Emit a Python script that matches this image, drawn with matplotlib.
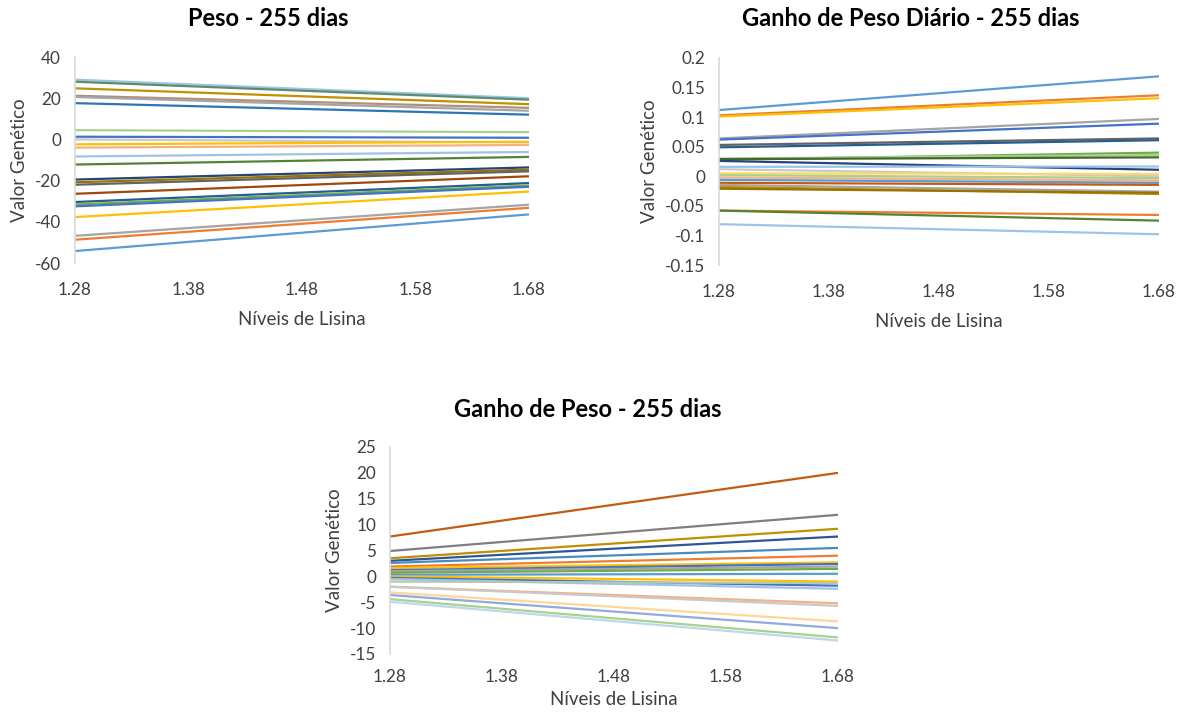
import matplotlib
matplotlib.use("Agg")
import matplotlib.pyplot as plt
from matplotlib.ticker import FuncFormatter

plt.rcParams['font.family'] = ['Lato', 'DejaVu Sans']

# Lysine levels (x axis)
niveis = [1.28, 1.38, 1.48, 1.58, 1.68]
x_ends = [1.28, 1.68]

# Peso - 255 dias: genetic value at 1.28 and 1.68
peso_inicio = [29.0, 28.0, 24.8, 21.2, 20.6, 17.6, 4.5, 1.3, 0.0, -2.4, -4.0, -8.3, -12.2,
               -19.5, -20.8, -22.0, -26.4, -30.4, -31.6, -32.5, -37.7, -46.8, -48.7, -54.2]
peso_fim = [20.0, 19.3, 17.1, 15.3, 13.9, 12.0, 3.5, 0.8, -1.5, -1.1, -2.7, -6.1, -8.5,
            -13.6, -14.7, -15.5, -17.9, -21.2, -22.4, -23.0, -25.3, -31.7, -33.2, -36.4]
peso_cores = ['#9DC3E6', '#5E8C6A', '#BF9000', '#B08F7C', '#A5A5A5', '#2E75B6', '#A9D18E',
              '#4472C4', '#C9C9C9', '#FFC000', '#F4B183', '#9DC3E6', '#548235',
              '#264478', '#997300', '#636363', '#9E480E', '#255E91', '#70AD47', '#4472C4',
              '#FFC000', '#A5A5A5', '#ED7D31', '#5B9BD5']

# Ganho de Peso Diário - 255 dias
gpd_inicio = [0.112, 0.103, 0.101, 0.064, 0.062, 0.053, 0.049, 0.028, 0.030, 0.029, 0.026,
              0.016, 0.012, 0.005, 0.002, -0.002, -0.006, -0.011, -0.0145, -0.018, -0.021,
              -0.058, -0.058, -0.081]
gpd_fim = [0.169, 0.137, 0.132, 0.097, 0.089, 0.064, 0.061, 0.040, 0.036, 0.032, 0.011,
           0.0165, 0.0, 0.004, -0.003, -0.007, -0.011, -0.0145, -0.026, -0.030, -0.028,
           -0.0654, -0.075, -0.098]
gpd_cores = ['#5B9BD5', '#ED7D31', '#FFC000', '#A5A5A5', '#4472C4', '#636363', '#255E91',
             '#70AD47', '#A9D18E', '#43682B', '#264478', '#9DC3E6', '#C9C9C9', '#FFD966',
             '#A9D18E', '#F4B183', '#5B9BD5', '#C55A11', '#A5A5A5', '#BF9000', '#997300',
             '#ED7D31', '#548235', '#9DC3E6']

# Ganho de Peso - 255 dias
gp_inicio = [7.7, 4.9, 3.5, 3.0, 2.6, 1.9, 1.6, 1.2, 1.0, 0.7, 0.3, 0.0, -0.3, -0.5, -1.0,
             -2.0, -2.0, -3.1, -3.6, -4.4, -4.9]
gp_fim = [20.0, 11.9, 9.2, 7.7, 5.5, 4.0, 2.7, 2.4, 1.9, 1.45, 0.5, -1.0, -1.8, -2.4, -1.3,
          -5.2, -5.7, -8.7, -10.0, -11.8, -12.4]
gp_cores = ['#C55A11', '#7F7F7F', '#BF9000', '#2F5597', '#4A8BBF', '#ED7D31', '#FFC000',
            '#4472C4', '#A5A5A5', '#70AD47', '#5B9BD5', '#FFC000', '#4472C4', '#9DC3E6',
            '#B4C7B0', '#F4B183', '#C9C9C9', '#FFD699', '#8FAADC', '#A9D18E', '#BDD7EE']

W, H = 1184, 714
fig = plt.figure(figsize=(W / 100, H / 100), dpi=100)


def painel(rect, titulo, titulo_xy, inicio, fim, cores, yticks, fmt,
           xpad=14, xlabelpad=9):
    ax = fig.add_axes(rect)
    for a, b, c in zip(inicio, fim, cores):
        ax.plot(x_ends, [a, b], color=c, lw=1.6, solid_capstyle='butt')
    ax.set_xlim(niveis[0], niveis[-1])
    ax.set_ylim(yticks[0], yticks[-1])
    ax.set_xticks(niveis)
    ax.set_xticklabels([f'{v:.2f}' for v in niveis])
    ax.set_yticks(yticks)
    ax.yaxis.set_major_formatter(FuncFormatter(fmt))
    for s in ['top', 'right', 'bottom']:
        ax.spines[s].set_visible(False)
    ax.spines['left'].set_color('#D9D9D9')
    ax.spines['left'].set_linewidth(1.2)
    ax.tick_params(axis='both', length=0, labelsize=12.3, colors='#404040')
    ax.tick_params(axis='y', pad=10)
    ax.tick_params(axis='x', pad=xpad)
    ax.set_xlabel('Níveis de Lisina', fontsize=13.5, color='#404040', labelpad=xlabelpad)
    ax.set_ylabel('Valor Genético', fontsize=13.5, color='#404040', labelpad=5)
    fig.text(titulo_xy[0] / W, 1 - titulo_xy[1] / H, titulo, ha='center', va='center',
             fontsize=17, fontweight='bold', color='#000000')
    ax.patch.set_alpha(0)
    return ax


painel([75 / W, 1 - 263 / H, 454 / W, 206 / H], 'Peso - 255 dias', (268, 19),
       peso_inicio, peso_fim, peso_cores, list(range(-60, 41, 20)),
       lambda v, p: f'{v:g}')
painel([719 / W, 1 - 265 / H, 440 / W, 207 / H], 'Ganho de Peso Diário - 255 dias',
       (911, 19), gpd_inicio, gpd_fim, gpd_cores,
       [-0.15, -0.1, -0.05, 0, 0.05, 0.1, 0.15, 0.2],
       lambda v, p: f'{round(v, 2):g}')
painel([390 / W, 1 - 654 / H, 448 / W, 207 / H], 'Ganho de Peso - 255 dias', (588, 410),
       gp_inicio, gp_fim, gp_cores, list(range(-15, 26, 5)),
       lambda v, p: f'{v:g}', xpad=11, xlabelpad=4)

fig.savefig('out.png', dpi=100)
